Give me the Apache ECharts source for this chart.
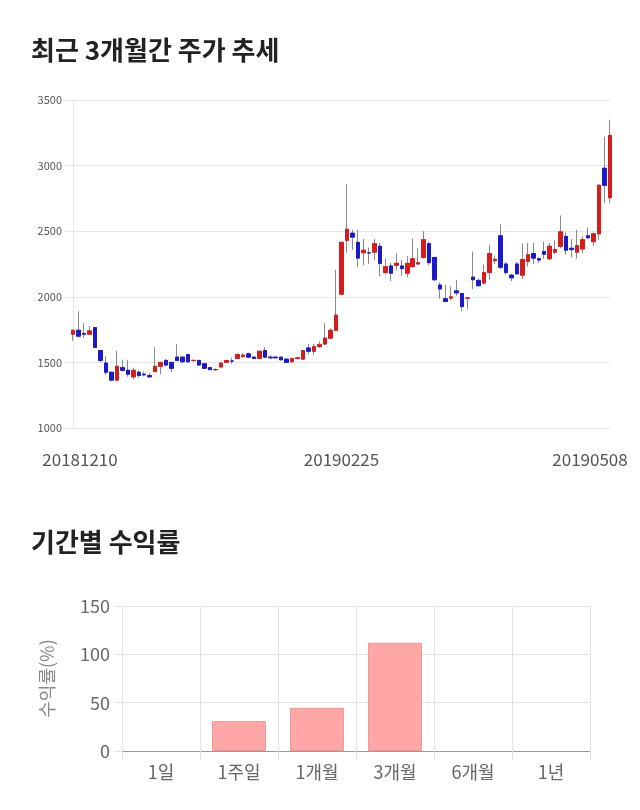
<!DOCTYPE html>
<html><head><meta charset="utf-8">
<script src="https://cdn.jsdelivr.net/npm/echarts@6/dist/echarts.min.js"></script>
<style>html,body{margin:0;padding:0;background:#fff}#c{width:640px;height:810px}</style>
</head><body><div id="c"></div>
<script>
const dates = ['20181210','20181211','20181212','20181213','20181214','20181217','20181218','20181219','20181220','20181221','20181224','20181226','20181227','20181228',
'20190102','20190103','20190104','20190107','20190108','20190109','20190110','20190111','20190114','20190115','20190116','20190117','20190118','20190121','20190122','20190123','20190124','20190125','20190128','20190129','20190130','20190131',
'20190201','20190207','20190208','20190211','20190212','20190213','20190214','20190215','20190218','20190219','20190220','20190221','20190222','20190225','20190226','20190227','20190228',
'20190304','20190305','20190306','20190307','20190308','20190311','20190312','20190313','20190314','20190315','20190318','20190319','20190320','20190321','20190322','20190325','20190326','20190327','20190328','20190329',
'20190401','20190402','20190403','20190404','20190405','20190408','20190409','20190410','20190411','20190412','20190415','20190416','20190417','20190418','20190419','20190422','20190423','20190424','20190425','20190426','20190429','20190430',
'20190502','20190503','20190507','20190508'];
const openP  = [1715,1745,1720,1715,1765,1590,1495,1425,1365,1460,1440,1390,1425,1410,1400,1430,1470,1515,1500,1540,1540,1560,1515,1515,1490,1460,1445,1465,1500,1510,1530,1545,1565,1540,1530,1590,1540,1540,1540,1525,1505,1530,1525,1610,1585,1620,1640,1685,1745,2020,2430,2485,2415,2335,2335,2340,2385,2185,2235,2240,2235,2180,2230,2250,2300,2405,2300,2090,1985,1990,2045,2025,1990,2150,2125,2105,2185,2275,2465,2250,2165,2250,2165,2270,2330,2290,2345,2290,2340,2385,2460,2370,2340,2365,2465,2420,2480,2980,2755];
const closeP = [1745,1700,1715,1740,1615,1515,1425,1365,1470,1440,1410,1440,1400,1405,1390,1470,1500,1480,1455,1515,1505,1505,1515,1480,1455,1445,1445,1495,1515,1510,1560,1555,1540,1530,1585,1540,1535,1535,1520,1500,1530,1535,1590,1585,1620,1635,1685,1745,1860,2415,2515,2455,2295,2355,2335,2405,2255,2230,2180,2255,2215,2255,2290,2260,2435,2260,2130,2060,1965,2000,2030,1925,1990,2130,2085,2185,2330,2285,2225,2185,2145,2175,2285,2320,2295,2280,2325,2385,2360,2495,2355,2360,2390,2435,2450,2480,2850,2850,3230];
const lowP   = [1665,1690,1685,1710,1610,1500,1405,1355,1355,1430,1390,1370,1385,1395,1385,1425,1410,1470,1425,1510,1495,1495,1505,1475,1450,1440,1435,1460,1495,1490,1525,1535,1535,1525,1525,1535,1525,1530,1515,1495,1500,1525,1520,1560,1555,1610,1630,1680,1740,2015,2335,2360,2225,2240,2250,2280,2155,2170,2120,2200,2160,2150,2220,2245,2290,2240,2120,1985,1960,1975,2010,1890,1905,2060,2075,2095,2130,2250,2210,2170,2120,2170,2135,2230,2250,2260,2290,2280,2325,2370,2320,2300,2290,2330,2440,2390,2435,2715,2715];
const highP  = [1750,1890,1800,1775,1770,1595,1545,1430,1590,1520,1520,1460,1440,1430,1420,1615,1505,1525,1505,1640,1545,1565,1520,1520,1495,1465,1455,1500,1520,1535,1570,1570,1575,1545,1590,1615,1555,1545,1540,1530,1535,1540,1595,1640,1640,1660,1800,1760,2205,2420,2860,2510,2510,2440,2375,2440,2410,2290,2260,2330,2280,2310,2445,2370,2500,2420,2300,2110,2090,2080,2130,2030,2000,2345,2140,2245,2395,2310,2555,2265,2175,2265,2405,2410,2410,2300,2420,2410,2430,2620,2490,2440,2510,2460,2530,2490,2860,3220,3350];
const priceTicks = [1000, 1500, 2000, 2500, 3000, 3500];
const dateLabelIdx = [0, 49, 98];

const periods = ['1일','1주일','1개월','3개월','6개월','1년'];
const returns = [null, 31, 44.7, 112, null, null];

const UP = '#d41e1e', DOWN = '#1a1ac8', WICK = '#8a8a8a';
const wickData = dates.map((d,i)=>[openP[i], closeP[i], lowP[i], highP[i]]);
const bodyData = dates.map((d,i)=>[openP[i], closeP[i], Math.min(openP[i],closeP[i]), Math.max(openP[i],closeP[i])]);
const lastIdx = dates.length - 1;
const FONT = '"Noto Sans CJK KR", "Noto Sans", sans-serif';

const chart = echarts.init(document.getElementById('c'), null, {renderer:'canvas'});
chart.setOption({
  animation:false,
  textStyle:{fontFamily:FONT},
  title:[
    {text:'최근 3개월간 주가 추세', left:31, top:37, padding:0, textStyle:{fontSize:26, fontWeight:'bold', color:'#222', fontFamily:FONT}},
    {text:'기간별 수익률', left:31, top:529, padding:0, textStyle:{fontSize:26, fontWeight:'bold', color:'#222', fontFamily:FONT}}
  ],
  grid:[
    {left:73, right:30, top:100, height:328},
    {left:122, right:50, top:606, height:145}
  ],
  xAxis:[
    {type:'category', gridIndex:0, data:dates, boundaryGap:false,
     axisLine:{show:false}, axisTick:{show:false}, splitLine:{show:false},
     axisLabel:{interval:(i)=>dateLabelIdx.includes(i), fontSize:17, color:'#555', margin:23, fontFamily:FONT,
       formatter:(v,i)=> i===0 ? '{l|'+v+'}' : (i===lastIdx ? '{r|'+v+'}' : '{m|'+v+'}'),
       rich:{l:{fontSize:17,color:'#555',padding:[0,0,0,14],fontFamily:FONT},
             r:{fontSize:17,color:'#555',padding:[0,40,0,0],fontFamily:FONT},
             m:{fontSize:17,color:'#555',fontFamily:FONT}}}},
    {type:'category', gridIndex:1, data:periods,
     axisLine:{show:true, lineStyle:{color:'#999'}},
     axisTick:{show:true, length:8, lineStyle:{color:'#ddd'}},
     splitLine:{show:true, lineStyle:{color:'#e3e3e3'}},
     axisLabel:{fontSize:18, color:'#666', margin:12, fontFamily:FONT}}
  ],
  yAxis:[
    {type:'value', gridIndex:0, min:priceTicks[0], max:priceTicks[priceTicks.length-1], interval:500,
     axisLine:{show:true, lineStyle:{color:'#e6e6e6'}},
     axisTick:{show:true, length:8, lineStyle:{color:'#e6e6e6'}},
     splitLine:{lineStyle:{color:'#e6e6e6'}},
     axisLabel:{fontSize:11, color:'#555', margin:11, fontFamily:FONT, formatter:(v)=>String(v)}},
    {type:'value', gridIndex:1, min:0, max:150, interval:50,
     name:'수익률(%)', nameLocation:'middle', nameRotate:90, nameGap:66,
     nameTextStyle:{fontSize:18, color:'#888', fontFamily:FONT},
     axisLine:{show:false},
     axisTick:{show:true, length:8, lineStyle:{color:'#e3e3e3'}},
     splitLine:{lineStyle:{color:'#e3e3e3'}},
     axisLabel:{fontSize:18, color:'#666', margin:12, fontFamily:FONT}}
  ],
  series:[
    {type:'candlestick', xAxisIndex:0, yAxisIndex:0, data:wickData, barWidth:4,
     itemStyle:{color:WICK, color0:WICK, borderColor:WICK, borderColor0:WICK, borderWidth:1}},
    {type:'candlestick', xAxisIndex:0, yAxisIndex:0, data:bodyData, barWidth:4,
     itemStyle:{color:UP, color0:DOWN, borderColor:UP, borderColor0:DOWN, borderWidth:1}},
    {type:'bar', xAxisIndex:1, yAxisIndex:1, data:returns, barWidth:54,
     itemStyle:{color:'#ffa7a7', borderColor:'#eb9a9a', borderWidth:1}}
  ]
});
</script></body></html>
